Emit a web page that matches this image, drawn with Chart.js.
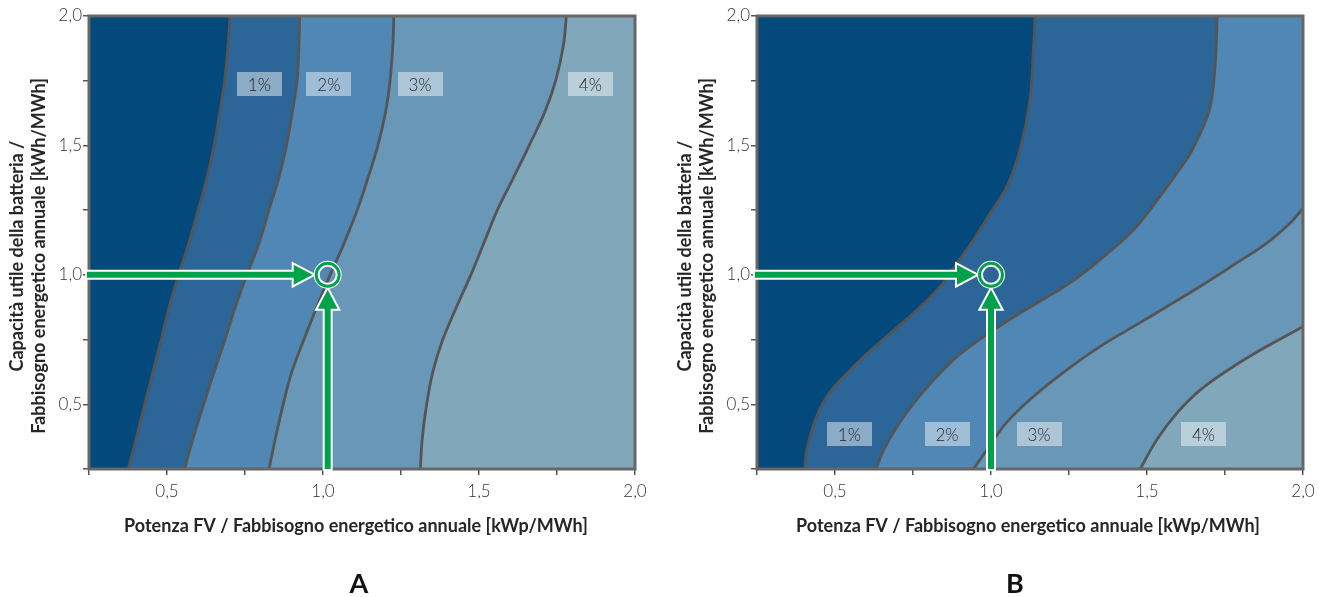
<!DOCTYPE html>
<html>
<head>
<meta charset="utf-8">
<script src="https://cdn.jsdelivr.net/npm/chart.js@4.4.1/dist/chart.umd.min.js"></script>
<style>
  html, body { margin: 0; padding: 0; background: #ffffff; }
  #wrap { position: relative; width: 1326px; height: 597px; overflow: hidden; }
  #boxA { position: absolute; left: 0; top: 0; width: 660px; height: 597px; }
  #boxB { position: absolute; left: 668px; top: 0; width: 658px; height: 597px; }
</style>
</head>
<body>
<div id="wrap">
  <div id="boxA"><canvas id="chartA" width="660" height="597"></canvas></div>
  <div id="boxB"><canvas id="chartB" width="658" height="597"></canvas></div>
</div>
<script>
// ---------------- DATA ----------------
const axisMin = 0.25;
const axisMax = 2.0;
const tickStep = 0.25;
const tickLabelValues = [0.5, 1.0, 1.5, 2.0];
const tickLabelTexts = ['0,5', '1,0', '1,5', '2,0'];
const xAxisTitle = 'Potenza FV / Fabbisogno energetico annuale [kWp/MWh]';
const yAxisTitle = ['Capacità utile della batteria /', 'Fabbisogno energetico annuale [kWh/MWh]'];
const levelLabels = ['1%', '2%', '3%', '4%'];
const panelNames = ['A', 'B'];

// Panel A: contour boundaries [x, y], from bottom to top
const curveA1 = [[0.376,0.25],[0.401,0.366],[0.428,0.498],[0.455,0.625],[0.481,0.747],[0.507,0.876],[0.537,1.0],[0.568,1.115],[0.600,1.251],[0.628,1.374],[0.651,1.5],[0.670,1.632],[0.685,1.751],[0.696,1.89],[0.702,2.0]];
const curveA2 = [[0.556,0.25],[0.583,0.366],[0.617,0.498],[0.651,0.625],[0.685,0.747],[0.719,0.876],[0.756,1.0],[0.793,1.115],[0.827,1.251],[0.858,1.374],[0.883,1.5],[0.902,1.632],[0.917,1.751],[0.923,1.89],[0.925,2.0]];
const curveA3 = [[0.827,0.25],[0.847,0.366],[0.872,0.498],[0.900,0.625],[0.938,0.747],[0.980,0.876],[1.023,1.0],[1.065,1.115],[1.110,1.251],[1.144,1.374],[1.176,1.5],[1.201,1.632],[1.215,1.751],[1.224,1.89],[1.227,2.0]];
const curveA4 = [[1.312,0.25],[1.318,0.366],[1.332,0.498],[1.352,0.625],[1.383,0.747],[1.428,0.876],[1.474,1.0],[1.513,1.115],[1.559,1.251],[1.610,1.374],[1.661,1.5],[1.712,1.632],[1.746,1.751],[1.771,1.89],[1.780,2.0]];

// Panel B: contour boundaries [x, y], from bottom edge to top / right edge
const curveB1 = [[0.403,0.25],[0.410,0.324],[0.437,0.44],[0.474,0.53],[0.528,0.607],[0.592,0.684],[0.677,0.774],[0.763,0.864],[0.838,0.955],[0.891,1.045],[0.944,1.135],[0.998,1.238],[1.051,1.341],[1.093,1.483],[1.125,1.676],[1.136,1.869],[1.141,2.0]];
const curveB2 = [[0.631,0.25],[0.656,0.324],[0.699,0.414],[0.752,0.504],[0.816,0.594],[0.891,0.684],[0.976,0.761],[1.083,0.845],[1.243,0.961],[1.349,1.058],[1.456,1.173],[1.540,1.30],[1.600,1.40],[1.645,1.483],[1.700,1.637],[1.718,1.804],[1.725,2.0]];
const curveB3 = [[0.944,0.25],[0.996,0.34],[1.050,0.43],[1.136,0.53],[1.243,0.633],[1.349,0.723],[1.456,0.80],[1.563,0.877],[1.670,0.955],[1.777,1.038],[1.883,1.122],[1.958,1.199],[2.0,1.257]];
const curveB4 = [[1.478,0.25],[1.531,0.362],[1.595,0.465],[1.670,0.555],[1.777,0.646],[1.883,0.723],[2.0,0.80]];

// Operating point marked in each panel
const markerA = [1.015, 1.0];
const markerB = [1.0, 1.0];

// ---------------- STYLE / LAYOUT ----------------
const FONT = 'Lato, "Open Sans", "DejaVu Sans", sans-serif';
const regionColors = ['#03497C', '#2C6698', '#5087B5', '#6897B8', '#80A8BA'];
const contourColor = '#555555';
const frameColor = '#666666';
const green = '#00A14B';
const textColor = '#262626';

const labelPosA = [[0.796,1.737],[1.019,1.737],[1.311,1.737],[1.857,1.737]];
const labelPosB = [[0.546,0.384],[0.859,0.384],[1.154,0.384],[1.681,0.384]];

function regionPolygon(curve) {
  const pts = [{x: axisMin, y: axisMin}];
  curve.forEach(([x, y]) => pts.push({x, y}));
  const last = curve[curve.length - 1];
  if (last[1] < axisMax) pts.push({x: axisMax, y: axisMax});
  pts.push({x: axisMin, y: axisMax});
  return pts;
}

function drawArrow(ctx, x0, y0, x1, y1) {
  const dx = x1 - x0, dy = y1 - y0;
  const len = Math.hypot(dx, dy);
  const ux = dx / len, uy = dy / len;
  const nx = -uy, ny = ux;
  const sw = 3, hw = 10, hl = 19;
  const bx = x1 - ux * hl, by = y1 - uy * hl;
  const pts = [
    [x0 + nx * sw, y0 + ny * sw],
    [bx + nx * sw, by + ny * sw],
    [bx + nx * hw, by + ny * hw],
    [x1, y1],
    [bx - nx * hw, by - ny * hw],
    [bx - nx * sw, by - ny * sw],
    [x0 - nx * sw, y0 - ny * sw]
  ];
  ctx.beginPath();
  pts.forEach((p, i) => i ? ctx.lineTo(p[0], p[1]) : ctx.moveTo(p[0], p[1]));
  ctx.closePath();
  ctx.lineJoin = 'miter';
  ctx.strokeStyle = '#ffffff';
  ctx.lineWidth = 4;
  ctx.stroke();
  ctx.fillStyle = green;
  ctx.fill();
}

const decorPlugin = {
  id: 'decor',
  afterDatasetsDraw(chart, args, opts) {
    const {ctx, chartArea: a, scales: {x, y}} = chart;
    ctx.save();
    // frame
    ctx.strokeStyle = frameColor;
    ctx.lineWidth = 3;
    ctx.strokeRect(a.left, a.top, a.right - a.left, a.bottom - a.top);
    // level labels
    ctx.font = '300 17px ' + FONT;
    ctx.textAlign = 'center';
    ctx.textBaseline = 'middle';
    opts.labelPos.forEach((p, i) => {
      const cx = x.getPixelForValue(p[0]);
      const cy = y.getPixelForValue(p[1]);
      ctx.fillStyle = 'rgba(255,255,255,0.45)';
      ctx.fillRect(Math.round(cx - 22.5), Math.round(cy - 12), 45, 24);
      ctx.fillStyle = '#2a2a2a';
      ctx.fillText(levelLabels[i], cx, cy + 1);
    });
    // arrows + marker
    const mx = x.getPixelForValue(opts.marker[0]);
    const my = y.getPixelForValue(opts.marker[1]);
    drawArrow(ctx, a.left - 2, my, mx - 15, my);
    drawArrow(ctx, mx, a.bottom, mx, my + 15);
    ctx.beginPath();
    ctx.arc(mx, my, 11, 0, Math.PI * 2);
    ctx.strokeStyle = '#ffffff';
    ctx.lineWidth = 6;
    ctx.stroke();
    ctx.beginPath();
    ctx.arc(mx, my, 11.5, 0, Math.PI * 2);
    ctx.strokeStyle = green;
    ctx.lineWidth = 3;
    ctx.stroke();
    ctx.restore();
  },
  afterDraw(chart, args, opts) {
    const {ctx, chartArea: a} = chart;
    ctx.save();
    ctx.fillStyle = textColor;
    ctx.textAlign = 'center';
    ctx.textBaseline = 'alphabetic';
    ctx.font = 'bold 18px ' + FONT;
    const cxm = (a.left + a.right) / 2;
    ctx.fillText(xAxisTitle, cxm + opts.titleDx, 532);
    // y title (rotated)
    [23, 45].forEach((bx, i) => {
      ctx.save();
      ctx.translate(bx, 256);
      ctx.rotate(-Math.PI / 2);
      ctx.fillText(yAxisTitle[i], 0, 0);
      ctx.restore();
    });
    ctx.font = 'bold 27px ' + FONT;
    ctx.fillStyle = '#111';
    ctx.fillText(opts.letter, cxm + opts.letterDx, 593);
    ctx.restore();
  }
};

function tickCallback(v) {
  const i = tickLabelValues.findIndex(t => Math.abs(t - v) < 1e-6);
  return i >= 0 ? tickLabelTexts[i] : '';
}

function makeChart(canvasId, curves, marker, labelPos, letter, rightPad, titleDx, letterDx) {
  const datasets = [];
  curves.forEach((c, i) => datasets.push({
    label: 'contour ' + (i + 1),
    data: c.map(([x, y]) => ({x, y})),
    order: 0, borderColor: contourColor, borderWidth: 2.8,
    fill: false, pointRadius: 0, tension: 0.35
  }));
  curves.forEach((c, i) => datasets.push({
    label: 'region ' + (i + 1),
    data: regionPolygon(c),
    order: i + 1, borderColor: 'rgba(0,0,0,0)', borderWidth: 0,
    backgroundColor: regionColors[i], fill: 'shape', pointRadius: 0, tension: 0
  }));
  datasets.push({
    label: 'region 5',
    data: [{x: axisMin, y: axisMin}, {x: axisMax, y: axisMin}, {x: axisMax, y: axisMax}, {x: axisMin, y: axisMax}],
    order: 10, borderColor: 'rgba(0,0,0,0)', borderWidth: 0,
    backgroundColor: regionColors[4], fill: 'shape', pointRadius: 0, tension: 0
  });

  const tickFont = {family: FONT, size: 17, weight: '300'};
  return new Chart(document.getElementById(canvasId), {
    type: 'line',
    data: {datasets},
    options: {
      responsive: false,
      devicePixelRatio: 1,
      animation: false,
      layout: {padding: {left: 0, right: rightPad, top: 16, bottom: 0}},
      plugins: {
        legend: {display: false},
        tooltip: {enabled: false},
        decor: {marker, labelPos, letter, titleDx, letterDx}
      },
      scales: {
        x: {
          type: 'linear', min: axisMin, max: axisMax,
          ticks: {stepSize: tickStep, autoSkip: false, maxRotation: 0, callback: tickCallback,
                  font: tickFont, color: '#333', padding: 6},
          grid: {display: true, drawOnChartArea: false, drawTicks: true, tickLength: 6, color: '#555', lineWidth: 1.5},
          border: {display: false},
          afterFit: (s) => { s.height = 128; }
        },
        y: {
          type: 'linear', min: axisMin, max: axisMax,
          ticks: {stepSize: tickStep, autoSkip: false, callback: tickCallback,
                  font: tickFont, color: '#333', padding: 1},
          grid: {display: true, drawOnChartArea: false, drawTicks: true, tickLength: 6, color: '#555', lineWidth: 1.5},
          border: {display: false},
          afterFit: (s) => { s.width = 89; }
        }
      }
    },
    plugins: [decorPlugin]
  });
}

makeChart('chartA', [curveA1, curveA2, curveA3, curveA4], markerA, labelPosA, panelNames[0], 25, -6, -3);
makeChart('chartB', [curveB1, curveB2, curveB3, curveB4], markerB, labelPosB, panelNames[1], 23, -2, -15);
</script>
</body>
</html>
